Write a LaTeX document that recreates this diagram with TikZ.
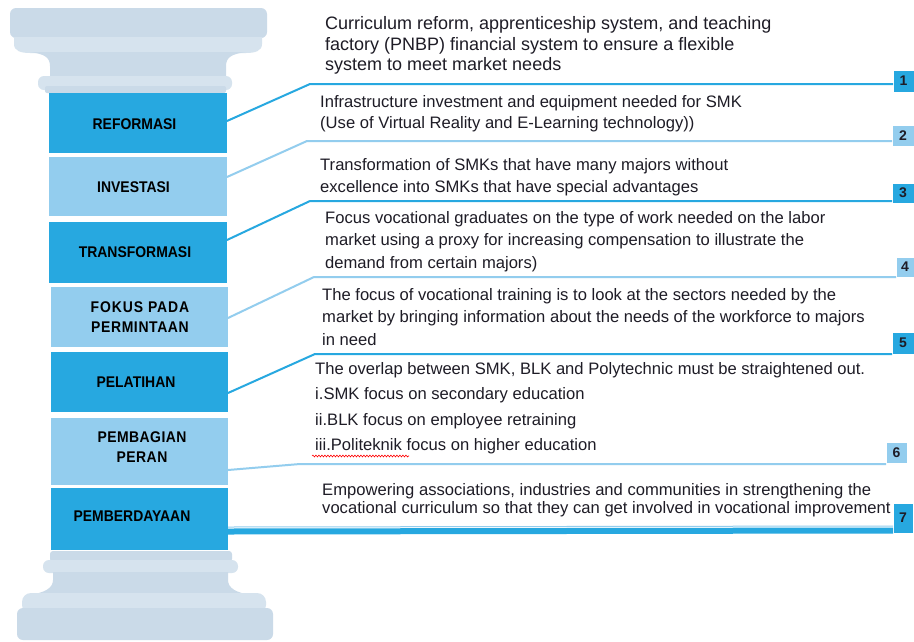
\documentclass[tikz,border=0pt]{standalone}
\usepackage{fontspec}
\setmainfont{Liberation Sans}
\usetikzlibrary{calc,decorations.pathmorphing}
\definecolor{dblue}{HTML}{27A8E0}
\definecolor{lblue}{HTML}{93CDEE}
\definecolor{colA}{HTML}{CADAE8}
\definecolor{colB}{HTML}{D6E3EE}
\definecolor{txt}{HTML}{1E1C26}
\begin{document}
\begin{tikzpicture}[x=1pt,y=-1pt,
  blk/.style={anchor=north west,inner sep=0pt,outer sep=0pt},
  dblk/.style={blk,fill=dblue},
  lblk/.style={blk,fill=lblue},
  lbl/.style={inner sep=0pt,align=center,text=black,font=\bfseries\fontsize{15.5}{20}\selectfont\addfontfeature{FakeStretch=0.9}},
  numbox/.style={draw=white,line width=0.8pt,inner sep=0pt,outer sep=0pt,text=txt,font=\bfseries\fontsize{14}{16}\selectfont},
  dnum/.style={numbox,fill=dblue},
  lnum/.style={numbox,fill=lblue},
  body/.style={anchor=base west,inner sep=0pt,text=txt,font=\fontsize{16.6}{20}\selectfont},
  bodybig/.style={body,font=\fontsize{18}{20}\selectfont},
  dline/.style={draw=dblue,line width=2pt},
  lline/.style={draw=lblue,line width=2pt}
]
\useasboundingbox (0,0) rectangle (914,641);
\fill[white] (0,0) rectangle (914,641);

% ---- capital ----
\fill[colA,rounded corners=6] (10,8) rectangle (267,38);
\fill[colB] (14,37) -- (262,37) -- (262,44) .. controls (262,51) and (255,53) .. (246,53) -- (30,53) .. controls (21,53) and (14,51) .. (14,44) -- cycle;
\fill[colA] (30,52) -- (246,52) .. controls (232,54) and (226,57) .. (226,66) -- (226,80) -- (50,80) -- (50,66) .. controls (50,57) and (44,54) .. (30,52) -- cycle;
\fill[colB,rounded corners=6] (38,76) rectangle (232,90);
\fill[colA,rounded corners=2] (45,86) rectangle (226,93);

% ---- base ----
\fill[colA,rounded corners=3] (50,551) rectangle (232,562);
\fill[colB,rounded corners=6] (43,560) rectangle (238,573);
\fill[colA] (53,572) -- (228,572) -- (228,580) .. controls (228,588) and (236,593) .. (252,595) -- (28,595) .. controls (45,593) and (53,588) .. (53,580) -- cycle;
\fill[colB,rounded corners=9] (22,593) rectangle (266,614);
\fill[colA,rounded corners=6] (17,608) rectangle (273,640);

% ---- blocks ----
\node[dblk,minimum width=178pt,minimum height=60pt] (b1) at (49,93) {};
\node[lblk,minimum width=178pt,minimum height=59pt] (b2) at (49,157) {};
\node[dblk,minimum width=178pt,minimum height=61pt] (b3) at (49,222) {};
\node[lblk,minimum width=177pt,minimum height=60pt] (b4) at (51,287) {};
\node[dblk,minimum width=177pt,minimum height=60pt] (b5) at (51,352) {};
\node[lblk,minimum width=177pt,minimum height=67pt] (b6) at (51,418) {};
\node[dblk,minimum width=177pt,minimum height=62pt] (b7) at (51,488) {};

\node[lbl] (l1) at (134.5,124) {REFORMASI};
\node[lbl] (l2) at (133.5,187) {INVESTASI};
\node[lbl] (l3) at (135,252) {TRANSFORMASI};
\node[lbl] (l4) at (140,317) {\addfontfeature{LetterSpace=6}FOKUS PADA\\\addfontfeature{LetterSpace=4}PERMINTAAN};
\node[lbl] (l5) at (136,382) {PELATIHAN};
\node[lbl] (l6) at (142,447.5) {\addfontfeature{LetterSpace=3}PEMBAGIAN\\\addfontfeature{LetterSpace=3}PERAN};
\node[lbl] (l7) at (132,516) {PEMBERDAYAAN};

% ---- number boxes ----
\node[dnum,minimum width=21pt,minimum height=22pt] (n1) at (903.5,81) {1};
\node[lnum,minimum width=22pt,minimum height=21pt] (n2) at (903,135.5) {2};
\node[dnum,minimum width=22pt,minimum height=20pt] (n3) at (903,193) {3};
\node[lnum,minimum width=18pt,minimum height=20pt] (n4) at (905,267) {4};
\node[dnum,minimum width=22pt,minimum height=22pt] (n5) at (903,343) {5};
\node[lnum,minimum width=21pt,minimum height=21pt] (n6) at (896.5,452.5) {6};
\node[dnum,minimum width=20pt,minimum height=30pt] (n7) at (903,518) {7};

% ---- connectors ----
\coordinate (k1) at (310,84);
\coordinate (k2) at (307,141);
\coordinate (k3) at (310,201);
\coordinate (k4) at (314,277);
\coordinate (k5) at (315,354);
\coordinate (k6) at (300,464);
\draw[dline] ($(b1.east)+(0,-2)$) -- (k1) -- (n1.west |- k1);
\draw[lline] ($(b2.east)+(0,-9.5)$) -- (k2) -- (n2.west |- k2);
\draw[dline] ($(b3.east)+(0,-12.5)$) -- (k3) -- (n3.west |- k3);
\draw[lline] ($(b4.east)+(0,1)$) -- (k4) -- (n4.west |- k4);
\draw[dline] ($(b5.east)+(0,11)$) -- (k5) -- (n5.west |- k5);
\draw[lline] ($(b6.east)+(0,18.5)$) -- (k6) -- (n6.west |- k6);
\draw[draw=lblue,line width=1pt] ($(b7.east)+(0,8)$) -- ($(n7.west)+(0,8)$);
\draw[draw=dblue,line width=6pt] ($(b7.east)+(0,12.5)$) -- ($(n7.west)+(0,12.5)$);

% ---- texts ----
\node[bodybig] (t1a) at (325,29) {Curriculum reform, apprenticeship system, and teaching};
\node[bodybig] (t1b) at (325,50) {factory (PNBP) financial system to ensure a flexible};
\node[bodybig] (t1c) at (325,70) {system to meet market needs};
\node[body] (t2a) at (320,107) {Infrastructure investment and equipment needed for SMK};
\node[body] (t2b) at (320,128) {(Use of Virtual Reality and E-Learning technology))};
\node[body] (t3a) at (320,170) {Transformation of SMKs that have many majors without};
\node[body] (t3b) at (320,192) {excellence into SMKs that have special advantages};
\node[body] (t4a) at (325,223) {Focus vocational graduates on the type of work needed on the labor};
\node[body] (t4b) at (325,245) {market using a proxy for increasing compensation to illustrate the};
\node[body] (t4c) at (325,268) {demand from certain majors)};
\node[body] (t5a) at (322,300) {The focus of vocational training is to look at the sectors needed by the};
\node[body] (t5b) at (322,322) {market by bringing information about the needs of the workforce to majors};
\node[body] (t5c) at (322,345) {in need};
\node[body] (t6a) at (315,374) {The overlap between SMK, BLK and Polytechnic must be straightened out.};
\node[body] (t6b) at (315,399) {i.SMK focus on secondary education};
\node[body] (t6c) at (315,425) {ii.BLK focus on employee retraining};
\node[body] (t6d) at (315,450) {iii.Politeknik focus on higher education};
\node[body] (t7a) at (322,495) {Empowering associations, industries and communities in strengthening the};
\node[body] (t7b) at (322,513) {vocational curriculum so that they can get involved in vocational improvement};

\coordinate (s1) at (312,456);
\coordinate (s2) at (409,456);
\draw[red,line width=0.6pt,decorate,decoration={snake,amplitude=0.9pt,segment length=3pt}] (s1) -- (s2);
\end{tikzpicture}
\end{document}
